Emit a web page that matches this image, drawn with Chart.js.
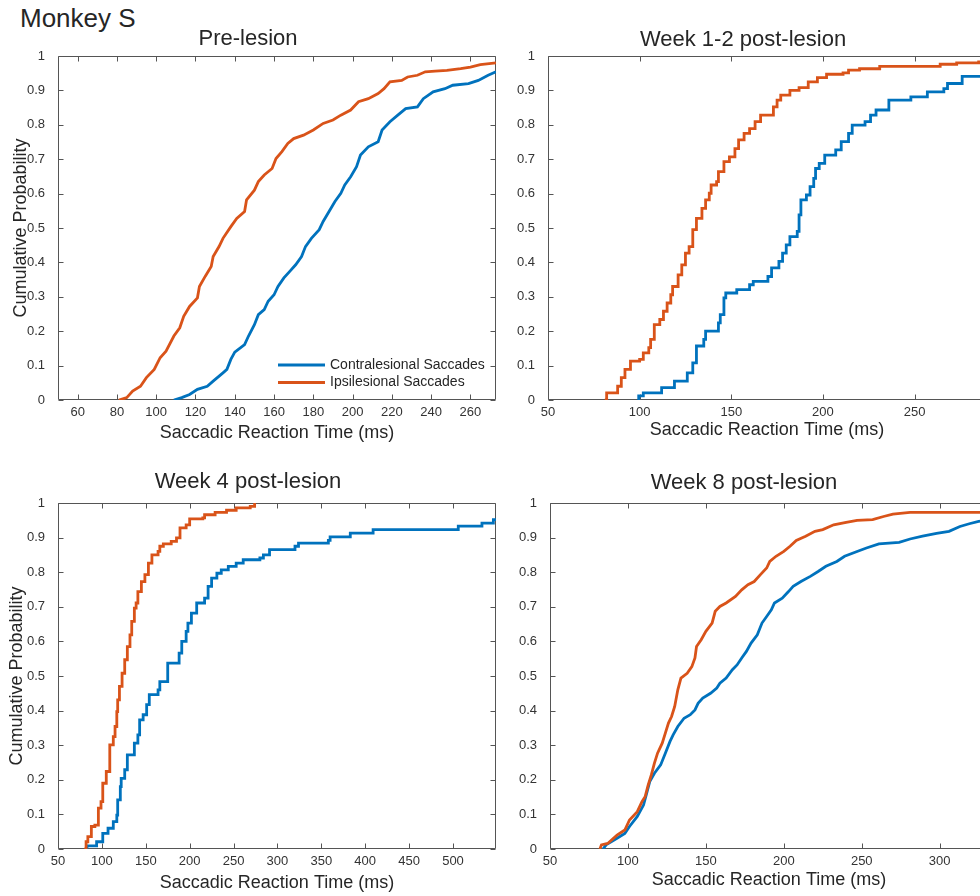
<!DOCTYPE html>
<html>
<head>
<meta charset="utf-8">
<title>Monkey S - saccadic reaction time</title>
<script src="https://cdn.jsdelivr.net/npm/chart.js@4.4.1/dist/chart.umd.min.js"></script>
<style>
  html, body { margin: 0; padding: 0; background: #fff; overflow: hidden; }
  #page { position: relative; width: 980px; height: 896px; overflow: hidden; }
  #page canvas { position: absolute; }
  #monkey { position: absolute; left: 20px; top: 3px; line-height: 30px;
            font: 26px 'Liberation Sans', Arial, Helvetica, sans-serif; color: #262626; }
</style>
</head>
<body>
<div id="page">
  <div id="monkey">Monkey S</div>
  <canvas id="pre" width="500" height="430" style="left:0;top:20px"></canvas>
  <canvas id="wk12" width="500" height="430" style="left:500px;top:20px"></canvas>
  <canvas id="wk4" width="500" height="435" style="left:0;top:465px"></canvas>
  <canvas id="wk8" width="500" height="435" style="left:500px;top:465px"></canvas>
</div>
<script>
// ---- colours (matlab default order)
const blue = '#0072BD';
const orange = '#D95319';

// ---- ticks
const yTicks = [0, 0.1, 0.2, 0.3, 0.4, 0.5, 0.6, 0.7, 0.8, 0.9, 1];
const preTicks = [60, 80, 100, 120, 140, 160, 180, 200, 220, 240, 260];
const wk12Ticks = [50, 100, 150, 200, 250];
const wk4Ticks = [50, 100, 150, 200, 250, 300, 350, 400, 450, 500];
const wk8Ticks = [50, 100, 150, 200, 250, 300];

// ---- Pre-lesion
const preContraX = [109, 113, 117, 121, 126, 129, 134, 136, 138, 140, 145, 147, 150, 152, 155, 157, 160, 162, 165, 168, 171, 174, 176, 179, 183, 185, 188, 191, 194, 196, 199, 202, 204, 208, 213, 215, 219, 223, 227, 233, 236, 241, 247, 251, 259, 264, 269, 273];
const preContraY = [0, 0.007, 0.016, 0.031, 0.04, 0.055, 0.079, 0.089, 0.118, 0.139, 0.161, 0.186, 0.219, 0.248, 0.263, 0.287, 0.306, 0.33, 0.355, 0.374, 0.393, 0.417, 0.446, 0.47, 0.495, 0.519, 0.548, 0.577, 0.601, 0.625, 0.649, 0.678, 0.712, 0.736, 0.751, 0.785, 0.809, 0.828, 0.847, 0.852, 0.876, 0.896, 0.905, 0.915, 0.92, 0.929, 0.944, 0.954];
const preIpsiX = [81, 85, 88, 92, 95, 99, 102, 105, 109, 112, 114, 117, 121, 122, 125, 128, 129, 132, 134, 138, 141, 145, 146, 150, 152, 155, 159, 161, 164, 167, 170, 175, 180, 185, 190, 194, 199, 203, 208, 213, 216, 219, 225, 228, 233, 237, 242, 248, 255, 260, 265, 273];
const preIpsiY = [0, 0.007, 0.026, 0.04, 0.065, 0.089, 0.123, 0.142, 0.186, 0.21, 0.243, 0.272, 0.297, 0.33, 0.36, 0.388, 0.417, 0.446, 0.47, 0.504, 0.528, 0.548, 0.582, 0.61, 0.635, 0.654, 0.673, 0.702, 0.722, 0.746, 0.76, 0.77, 0.785, 0.804, 0.814, 0.828, 0.843, 0.867, 0.876, 0.891, 0.905, 0.925, 0.929, 0.939, 0.944, 0.954, 0.956, 0.958, 0.963, 0.968, 0.975, 0.98];

// ---- Week 1-2
const wk12ContraX = [99, 99.5, 102, 112, 119, 126, 129, 131, 135, 136, 143, 144, 146, 147, 153, 160, 162, 170, 172, 176, 178, 180, 182, 186, 187, 188, 191, 193, 195, 196, 198, 201, 207, 210, 214, 216, 223, 226, 229, 236, 248, 257, 266, 268, 276, 289];
const wk12ContraY = [0, 0.012, 0.021, 0.036, 0.055, 0.079, 0.108, 0.157, 0.176, 0.2, 0.224, 0.248, 0.297, 0.311, 0.321, 0.335, 0.345, 0.359, 0.384, 0.403, 0.427, 0.451, 0.475, 0.49, 0.538, 0.582, 0.596, 0.62, 0.644, 0.673, 0.688, 0.712, 0.727, 0.751, 0.775, 0.799, 0.809, 0.828, 0.843, 0.872, 0.881, 0.896, 0.905, 0.92, 0.941, 0.941];
const wk12IpsiX = [81, 82, 88, 90, 92, 95, 100, 102, 105, 106, 108, 111, 113, 115, 117, 118, 121, 123, 125, 127, 129, 131, 134, 136, 138, 139, 142, 143, 146, 149, 152, 154, 157, 160, 163, 166, 173, 175, 177, 182, 187, 192, 197, 202, 211, 214, 220, 231, 264, 273, 285, 289];
const wk12IpsiY = [0, 0.021, 0.04, 0.065, 0.089, 0.113, 0.118, 0.137, 0.152, 0.176, 0.219, 0.234, 0.258, 0.282, 0.306, 0.33, 0.364, 0.393, 0.427, 0.446, 0.495, 0.528, 0.557, 0.582, 0.601, 0.625, 0.635, 0.664, 0.693, 0.707, 0.731, 0.756, 0.775, 0.789, 0.809, 0.828, 0.852, 0.872, 0.886, 0.9, 0.908, 0.925, 0.937, 0.947, 0.951, 0.959, 0.963, 0.97, 0.976, 0.98, 0.983, 0.983];

// ---- Week 4
const wk4ContraX = [82, 83, 94, 101, 107, 113, 117, 118, 121, 122, 126, 129, 137, 141, 143, 147, 151, 154, 164, 166, 175, 188, 191, 196, 198, 202, 208, 217, 221, 225, 231, 236, 244, 253, 261, 280, 284, 291, 320, 324, 358, 360, 383, 409, 506, 533, 546, 549];
const wk4ContraY = [0, 0.009, 0.021, 0.045, 0.06, 0.079, 0.098, 0.142, 0.18, 0.204, 0.229, 0.272, 0.306, 0.33, 0.373, 0.388, 0.417, 0.446, 0.46, 0.484, 0.537, 0.566, 0.6, 0.629, 0.653, 0.682, 0.711, 0.725, 0.759, 0.783, 0.797, 0.807, 0.817, 0.826, 0.836, 0.841, 0.85, 0.865, 0.875, 0.884, 0.892, 0.902, 0.913, 0.923, 0.933, 0.942, 0.952, 0.952];
const wk4IpsiX = [80, 82, 84, 88, 92, 96, 99, 101, 105, 109, 113, 115, 117, 118, 120, 123, 126, 129, 132, 134, 137, 139, 141, 145, 149, 153, 157, 164, 166, 170, 179, 185, 189, 196, 200, 215, 217, 229, 242, 253, 269, 274];
const wk4IpsiY = [0, 0.021, 0.036, 0.065, 0.069, 0.118, 0.137, 0.19, 0.224, 0.301, 0.325, 0.354, 0.397, 0.431, 0.47, 0.508, 0.547, 0.585, 0.619, 0.658, 0.696, 0.711, 0.744, 0.773, 0.793, 0.826, 0.85, 0.86, 0.875, 0.882, 0.889, 0.899, 0.928, 0.937, 0.954, 0.957, 0.966, 0.973, 0.979, 0.986, 0.99, 1.0];

// ---- Week 8
const wk8ContraX = [84, 86, 93, 98, 101, 106, 110, 112, 114, 117, 121, 124, 127, 129, 132, 136, 140, 143, 145, 148, 153, 157, 159, 163, 167, 170, 173, 176, 179, 183, 186, 189, 192, 194, 199, 203, 206, 211, 217, 222, 227, 234, 239, 247, 253, 261, 274, 281, 289, 298, 306, 313, 319, 325, 331];
const wk8ContraY = [0, 0.012, 0.031, 0.045, 0.065, 0.094, 0.127, 0.161, 0.195, 0.219, 0.243, 0.277, 0.311, 0.33, 0.354, 0.378, 0.388, 0.402, 0.421, 0.436, 0.45, 0.465, 0.479, 0.494, 0.518, 0.532, 0.552, 0.571, 0.595, 0.619, 0.653, 0.672, 0.691, 0.711, 0.725, 0.744, 0.759, 0.773, 0.788, 0.802, 0.817, 0.831, 0.846, 0.86, 0.87, 0.882, 0.886, 0.896, 0.904, 0.912, 0.918, 0.932, 0.94, 0.947, 0.95];
const wk8IpsiX = [82, 83, 87, 93, 98, 101, 106, 109, 111, 113, 115, 117, 119, 122, 124, 126, 128, 130, 132, 134, 138, 141, 143, 144, 147, 150, 154, 156, 159, 163, 169, 173, 177, 181, 185, 189, 191, 195, 200, 204, 208, 214, 220, 225, 232, 240, 247, 257, 264, 270, 281, 331];
const wk8IpsiY = [0, 0.012, 0.016, 0.04, 0.055, 0.084, 0.108, 0.137, 0.151, 0.185, 0.214, 0.248, 0.277, 0.306, 0.335, 0.364, 0.383, 0.412, 0.46, 0.494, 0.508, 0.527, 0.552, 0.585, 0.605, 0.629, 0.653, 0.687, 0.701, 0.711, 0.73, 0.749, 0.764, 0.773, 0.793, 0.812, 0.831, 0.846, 0.86, 0.875, 0.892, 0.904, 0.918, 0.923, 0.937, 0.944, 0.95, 0.952, 0.961, 0.968, 0.973, 0.973];

Chart.defaults.font.family = "'Liberation Sans', Arial, Helvetica, sans-serif";
Chart.defaults.color = '#262626';

function pts(xs, ys) { return xs.map((x, i) => ({ x: x, y: ys[i] })); }

// matlab-like box with inward ticks on all four sides
const boxTicks = {
  id: 'boxTicks',
  beforeDatasetsDraw(chart) {
    const { ctx, chartArea: a, scales: { x, y } } = chart;
    const L = Math.round(a.left) + 0.5, R = Math.round(a.right) - 0.5;
    const T = Math.round(a.top) + 0.5, B = Math.round(a.bottom) - 0.5;
    ctx.save();
    ctx.strokeStyle = '#555';
    ctx.lineWidth = 1;
    ctx.beginPath();
    ctx.rect(L, T, R - L, B - T);
    x.ticks.forEach(t => {
      const px = Math.round(x.getPixelForValue(t.value)) + 0.5;
      ctx.moveTo(px, B); ctx.lineTo(px, B - 5);
      ctx.moveTo(px, T); ctx.lineTo(px, T + 5);
    });
    y.ticks.forEach(t => {
      const py = Math.round(y.getPixelForValue(t.value)) + 0.5;
      ctx.moveTo(L, py); ctx.lineTo(L + 5, py);
      ctx.moveTo(R, py); ctx.lineTo(R - 5, py);
    });
    ctx.stroke();
    ctx.restore();
  }
};

// legend in the lower right corner of the first panel
const cornerLegend = {
  id: 'cornerLegend',
  afterDatasetsDraw(chart) {
    const { ctx, chartArea: a } = chart;
    ctx.save();
    ctx.font = "14px 'Liberation Sans', Arial, Helvetica, sans-serif";
    ctx.textBaseline = 'middle';
    chart.data.datasets.forEach((ds, i) => {
      const yy = a.bottom - 35 + i * 17.5;
      ctx.strokeStyle = ds.borderColor;
      ctx.lineWidth = ds.borderWidth;
      ctx.beginPath();
      ctx.moveTo(a.right - 218, yy);
      ctx.lineTo(a.right - 171, yy);
      ctx.stroke();
      ctx.fillStyle = '#262626';
      ctx.fillText(ds.label, a.right - 166, yy);
    });
    ctx.restore();
  }
};

function makePanel(id, o) {
  // dense panels read as a smooth trace, sparse ones keep the ecdf steps
  const line = { pointRadius: 0, borderWidth: 2.8, stepped: o.stepped, fill: false, tension: 0, borderJoinStyle: 'miter' };
  return new Chart(document.getElementById(id), {
    type: 'line',
    data: {
      datasets: [
        Object.assign({ label: 'Contralesional Saccades', data: pts(o.cx, o.cy), borderColor: blue, order: 1 }, line),
        Object.assign({ label: 'Ipsilesional Saccades', data: pts(o.ix, o.iy), borderColor: orange, order: 0 }, line)
      ]
    },
    plugins: o.legend ? [boxTicks, cornerLegend] : [boxTicks],
    options: {
      responsive: false,
      animation: false,
      events: [],
      layout: { padding: { left: 0, right: o.padRight, top: 0, bottom: 0 } },
      plugins: {
        legend: { display: false },
        tooltip: { enabled: false },
        title: {
          display: true, text: o.title, color: '#262626',
          font: { size: 22, weight: 'normal' }, padding: o.titlePad
        }
      },
      scales: {
        x: {
          type: 'linear', min: 50, max: o.xMax,
          grid: { display: false }, border: { display: false },
          afterBuildTicks: s => { s.ticks = o.xTicks.map(v => ({ value: v })); },
          afterFit: s => { s.height = o.xAxisH; },
          ticks: { padding: -3, color: '#333', font: { size: 13 }, maxRotation: 0, autoSkip: false, callback: v => String(v) },
          title: {
            display: true, text: 'Saccadic Reaction Time (ms)', color: '#262626',
            font: { size: 18 }, padding: { top: 0, bottom: o.xTitlePad }
          }
        },
        y: {
          type: 'linear', min: 0, max: 1,
          grid: { display: false }, border: { display: false },
          afterBuildTicks: s => { s.ticks = yTicks.map(v => ({ value: v })); },
          afterFit: s => { s.width = o.yAxisW; },
          ticks: { padding: 5, color: '#333', font: { size: 13 }, autoSkip: false, callback: v => String(v) },
          title: {
            display: o.yTitle, text: 'Cumulative Probability', color: '#262626',
            font: { size: 18 }, padding: { top: o.yTitlePad, bottom: 0 }
          }
        }
      }
    }
  });
}

makePanel('pre', {
  title: 'Pre-lesion', titlePad: { top: 6, bottom: 3.6 },
  cx: preContraX, cy: preContraY, ix: preIpsiX, iy: preIpsiY, stepped: false,
  xTicks: preTicks, xMax: 273, padRight: 4, yAxisW: 58, xAxisH: 50,
  xTitlePad: 6.2, yTitle: true, yTitlePad: 10, legend: true
});
makePanel('wk12', {
  title: 'Week 1-2 post-lesion', titlePad: { top: 6.8, bottom: 2.8 },
  cx: wk12ContraX, cy: wk12ContraY, ix: wk12IpsiX, iy: wk12IpsiY, stepped: true,
  xTicks: wk12Ticks, xMax: 289, padRight: 14, yAxisW: 48, xAxisH: 50,
  xTitlePad: 9.2, yTitle: false, yTitlePad: 0
});
makePanel('wk4', {
  title: 'Week 4 post-lesion', titlePad: { top: 3.8, bottom: 7.8 },
  cx: wk4ContraX, cy: wk4ContraY, ix: wk4IpsiX, iy: wk4IpsiY, stepped: true,
  xTicks: wk4Ticks, xMax: 549, padRight: 4, yAxisW: 58, xAxisH: 51,
  xTitlePad: 6.2, yTitle: true, yTitlePad: 6
});
makePanel('wk8', {
  title: 'Week 8 post-lesion', titlePad: { top: 4.8, bottom: 6.8 },
  cx: wk8ContraX, cy: wk8ContraY, ix: wk8IpsiX, iy: wk8IpsiY, stepped: false,
  xTicks: wk8Ticks, xMax: 331, padRight: 12, yAxisW: 50, xAxisH: 51,
  xTitlePad: 9.2, yTitle: false, yTitlePad: 0
});
</script>
</body>
</html>
